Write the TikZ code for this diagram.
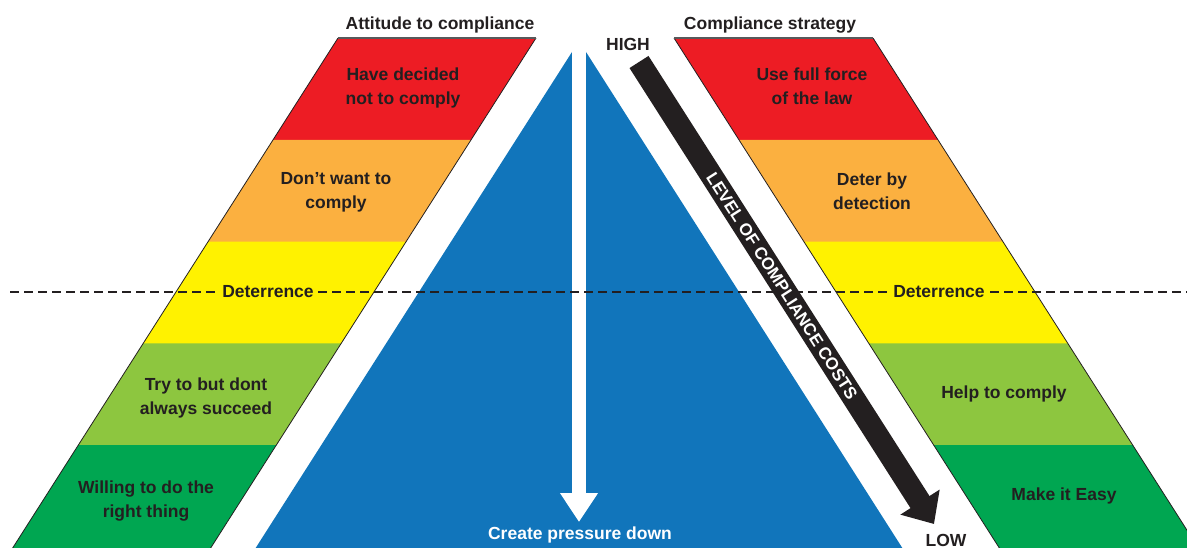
\documentclass[tikz,border=0pt]{standalone}
\usepackage{fontspec}
\setmainfont{Liberation Sans}
\usetikzlibrary{arrows.meta}
\definecolor{cred}{HTML}{ED1C24}
\definecolor{corange}{HTML}{FBB040}
\definecolor{cyellow}{HTML}{FFF200}
\definecolor{clgreen}{HTML}{8DC63F}
\definecolor{cgreen}{HTML}{00A651}
\definecolor{cblue}{HTML}{1175BB}
\definecolor{dark}{HTML}{231F20}
\definecolor{topgray}{HTML}{58595B}
\tikzset{
  lbl/.style={font=\bfseries\fontsize{17.5}{24}\selectfont, text=dark, align=center, inner sep=0pt},
  bandtxt/.style={lbl, text depth=4.5pt, anchor=center},
  deterlbl/.style={lbl, anchor=base, fill=cyellow, inner xsep=4pt, inner ysep=1pt},
  sideedge/.style={draw=dark, line width=0.8pt},
  topedge/.style={draw=topgray, line width=2pt},
  dashline/.style={draw=dark, line width=1.6pt, dash pattern=on 9pt off 5pt},
  pressarrow/.style={draw=white, line width=14pt, -{Triangle[length=29pt,width=36pt]}},
  costarrow/.style={draw=dark, line width=22.5pt, -{Triangle[length=26pt,width=45pt]}},
}
\begin{document}
\begin{tikzpicture}[x=1pt,y=-1pt]
\useasboundingbox (0,0) rectangle (1187,547);
\clip (0,0) rectangle (1187,547);
% left parallelogram bands
\fill[cred]    (338,38) -- (536,38) -- (470.7,140.3) -- (272.7,140.3) -- cycle;
\fill[corange] (273.05,139.8) -- (471.05,139.8) -- (405.8,242.1) -- (207.8,242.1) -- cycle;
\fill[cyellow] (208.1,241.6) -- (406.1,241.6) -- (340.9,343.9) -- (142.9,343.9) -- cycle;
\fill[clgreen] (143.2,343.4) -- (341.2,343.4) -- (275.9,445.7) -- (77.9,445.7) -- cycle;
\fill[cgreen]  (78.2,445.2) -- (276.2,445.2) -- (203,560) -- (5,560) -- cycle;
\draw[sideedge] (338,38) -- (5,560);
\draw[sideedge] (536,38) -- (203,560);
\draw[topedge] (338,38) -- (536,38);
% right parallelogram bands
\fill[cred]    (674,38) -- (873,38) -- (938.3,140.3) -- (739.3,140.3) -- cycle;
\fill[corange] (738.95,139.8) -- (937.95,139.8) -- (1003.2,242.1) -- (804.2,242.1) -- cycle;
\fill[cyellow] (803.9,241.6) -- (1002.9,241.6) -- (1068.1,343.9) -- (869.1,343.9) -- cycle;
\fill[clgreen] (868.8,343.4) -- (1067.8,343.4) -- (1133.1,445.7) -- (934.1,445.7) -- cycle;
\fill[cgreen]  (933.8,445.2) -- (1132.8,445.2) -- (1206,560) -- (1007,560) -- cycle;
\draw[sideedge] (674,38) -- (1007,560);
\draw[sideedge] (873,38) -- (1206,560);
\draw[topedge] (674,38) -- (873,38);
% blue triangle
\fill[cblue] (579,41) -- (910,560) -- (248,560) -- cycle;
% white pressure arrow
\coordinate (presstop) at (579,30);
\coordinate (presstip) at (579,522);
\draw[pressarrow] (presstop) -- (presstip);
% dashed deterrence line
\coordinate (dashL) at (10,292);
\coordinate (dashR) at (1187,292);
\draw[dashline] (dashL) -- (dashR);
% black cost arrow
\coordinate (costtop) at (639,62);
\coordinate (costtip) at (934,524);
\draw[costarrow] (costtop) -- (costtip);
\node[lbl, text=white, font=\bfseries\fontsize{17}{20}\selectfont, rotate=-57.46] (costlbl) at (782,286) {LEVEL OF COMPLIANCE COSTS};
% titles
\node[lbl, anchor=base] (att) at (440,29.5) {Attitude to compliance};
\node[lbl, anchor=base] (strat) at (770,29.5) {Compliance strategy};
\node[lbl, anchor=base] (high) at (628,50) {HIGH};
\node[lbl, anchor=base] (low) at (946,546.5) {LOW};
\node[lbl, anchor=base, text=white] (press) at (580,539.5) {Create pressure down};
% left band texts
\node[bandtxt] (l1) at (403,88) {Have decided\\not to comply};
\node[bandtxt] (l2) at (336,193) {Don’t want to\\comply};
\node[deterlbl] (l3) at (268,297.5) {Deterrence};
\node[bandtxt] (l4) at (206,398) {Try to but dont\\always succeed};
\node[bandtxt] (l5) at (146,501) {Willing to do the\\right thing};
% right band texts
\node[bandtxt] (r1) at (812,88) {Use full force\\of the law};
\node[bandtxt] (r2) at (872,193) {Deter by\\detection};
\node[deterlbl] (r3) at (939,297.5) {Deterrence};
\node[lbl, anchor=base] (r4) at (1004,398.5) {Help to comply};
\node[lbl, anchor=base] (r5) at (1064,500) {Make it Easy};
\end{tikzpicture}
\end{document}
